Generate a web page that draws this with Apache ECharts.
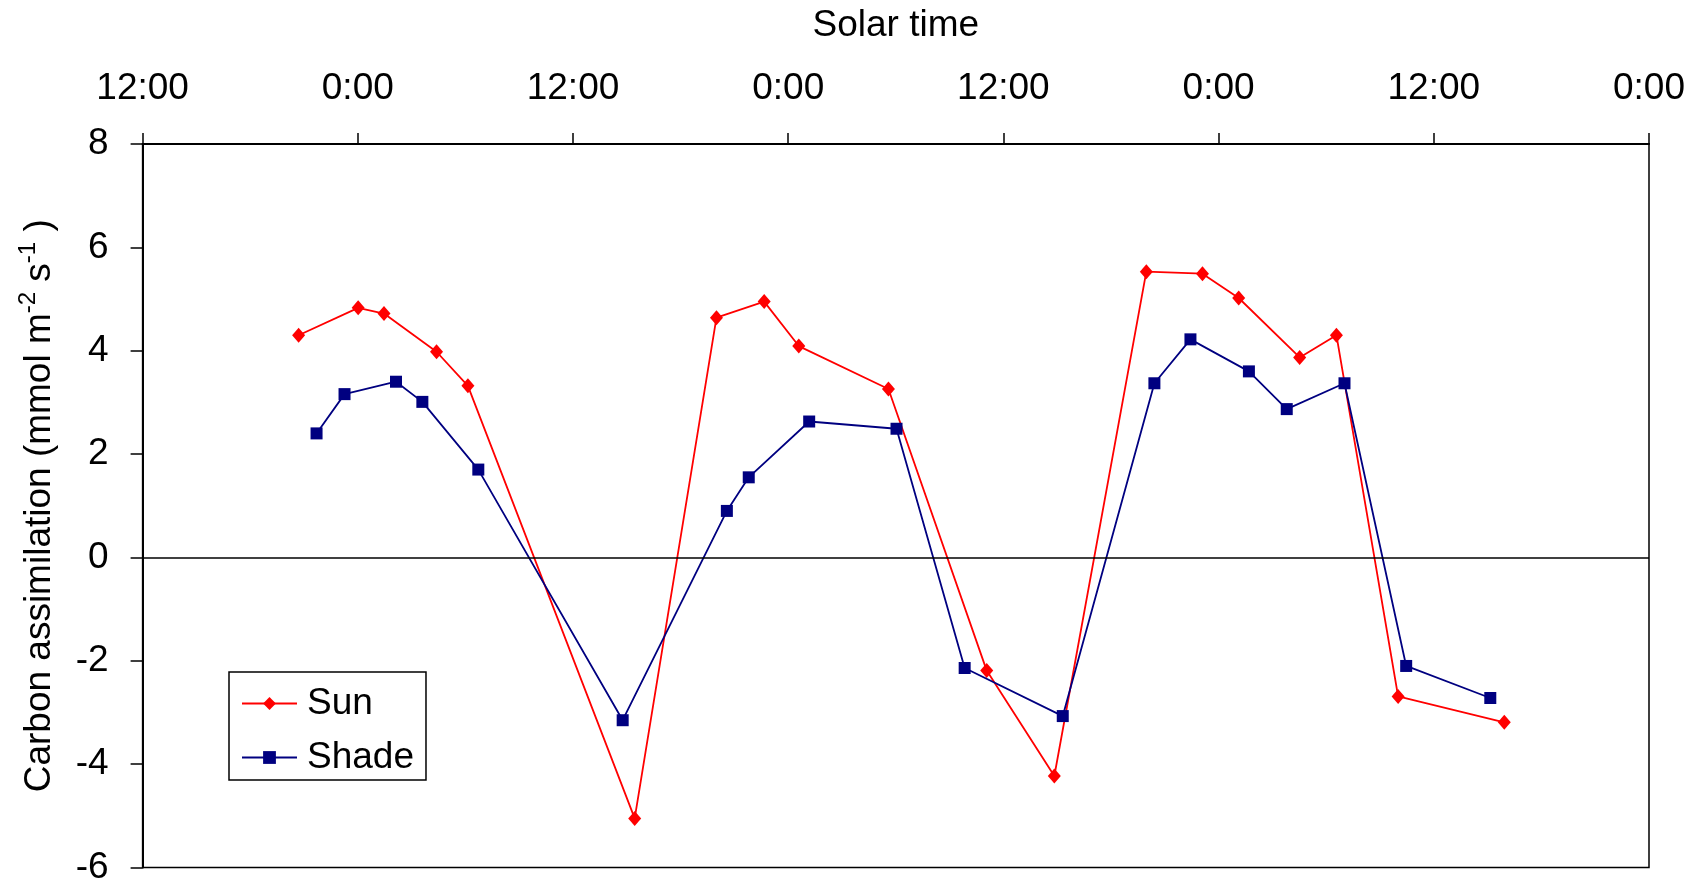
<!DOCTYPE html>
<html>
<head>
<meta charset="utf-8">
<script src="https://cdn.jsdelivr.net/npm/echarts@6/dist/echarts.min.js"></script>
<style>
  html, body { margin: 0; padding: 0; background: #fff; }
  #chart { width: 1707px; height: 886px; }
</style>
</head>
<body>
<div id="chart"></div>
<script>
// Hours since 12:00 (noon) of the first day
const sunHours   = [8.70, 12.02, 13.46, 16.39, 18.14, 27.44, 32.00, 34.66, 36.59, 41.59, 47.07, 50.84, 55.97, 59.10, 61.12, 64.52, 66.57, 70.01, 75.93];
const sunValues  = [4.30, 4.83, 4.72, 3.98, 3.32, -5.05, 4.64, 4.95, 4.09, 3.26, -2.19, -4.23, 5.53, 5.49, 5.02, 3.87, 4.30, -2.69, -3.19];
const shadeHours = [9.70, 11.26, 14.13, 15.60, 18.72, 26.77, 32.58, 33.80, 37.17, 42.04, 45.84, 51.31, 56.42, 58.43, 61.69, 63.80, 67.02, 70.46, 75.15];
const shadeValues= [2.40, 3.16, 3.40, 3.01, 1.70, -3.15, 0.90, 1.55, 2.63, 2.49, -2.14, -3.07, 3.37, 4.22, 3.60, 2.87, 3.37, -2.10, -2.72];
const tickLabels = ['12:00', '0:00'];
const seriesNames = ['Sun', 'Shade'];

const FONT = '"Liberation Sans", Arial, sans-serif';
const FS = 37;
const pairs = (xs, ys) => xs.map((x, i) => [x, ys[i]]);

const chart = echarts.init(document.getElementById('chart'));
chart.setOption({
  animation: false,
  backgroundColor: '#fff',
  textStyle: { fontFamily: FONT },
  grid: {
    left: 142.6, right: 58, top: 144, bottom: 16,
    show: true, borderColor: '#000', borderWidth: 1.5, backgroundColor: 'transparent'
  },
  legend: {
    orient: 'vertical',
    left: 229, top: 672,
    padding: [13, 12, 4, 12],
    itemGap: 17,
    itemWidth: 55, itemHeight: 16,
    borderColor: '#000', borderWidth: 1.5,
    backgroundColor: '#fff',
    textStyle: { fontFamily: FONT, fontSize: FS, lineHeight: 37, color: '#000', padding: [0, 0, 0, 5] },
    data: seriesNames
  },
  xAxis: {
    type: 'value',
    position: 'top',
    min: 0, max: 84, interval: 12,
    name: 'Solar time',
    nameLocation: 'middle',
    nameGap: 100,
    nameTextStyle: { fontFamily: FONT, fontSize: FS, lineHeight: 37, color: '#000' },
    axisLine: { show: true, onZero: false, lineStyle: { color: '#000', width: 2 } },
    axisTick: { show: true, inside: false, length: 11, lineStyle: { color: '#000', width: 1.5 } },
    axisLabel: {
      margin: 37, fontFamily: FONT, fontSize: FS, lineHeight: 37, color: '#000',
      formatter: v => tickLabels[(Math.round(v / 12)) % 2]
    },
    splitLine: { show: false }
  },
  yAxis: {
    type: 'value',
    min: -6, max: 8, interval: 2,
    name: '{n|Carbon assimilation (mmol m}{s|-2}{n| s}{s|-1}{n| )}',
    nameLocation: 'middle',
    nameRotate: 90,
    nameGap: 84,
    nameTextStyle: {
      fontFamily: FONT, fontSize: FS, color: '#000',
      rich: {
        n: { fontFamily: FONT, fontSize: FS, lineHeight: 42, color: '#000', verticalAlign: 'bottom' },
        s: { fontFamily: FONT, fontSize: 24, lineHeight: 42, color: '#000', verticalAlign: 'top', padding: [0, 0, 22, 0] }
      }
    },
    axisLine: { show: true, onZero: false, lineStyle: { color: '#000', width: 2 } },
    axisTick: { show: true, inside: false, length: 12, lineStyle: { color: '#000', width: 1.5 } },
    axisLabel: { margin: 34, fontFamily: FONT, fontSize: FS, color: '#000' },
    splitLine: { show: false }
  },
  series: [
    {
      name: seriesNames[0],
      type: 'line',
      data: pairs(sunHours, sunValues),
      symbol: 'diamond',
      symbolSize: [13, 15],
      itemStyle: { color: '#ff0000' },
      lineStyle: { color: '#ff0000', width: 1.8 },
      z: 3,
      markLine: {
        silent: true,
        symbol: 'none',
        label: { show: false },
        lineStyle: { color: '#000', width: 1.6, type: 'solid' },
        data: [{ yAxis: 0 }]
      }
    },
    {
      name: seriesNames[1],
      type: 'line',
      data: pairs(shadeHours, shadeValues),
      symbol: 'rect',
      symbolSize: 12,
      itemStyle: { color: '#000080' },
      lineStyle: { color: '#000080', width: 1.8 },
      z: 4
    }
  ]
});
</script>
</body>
</html>
